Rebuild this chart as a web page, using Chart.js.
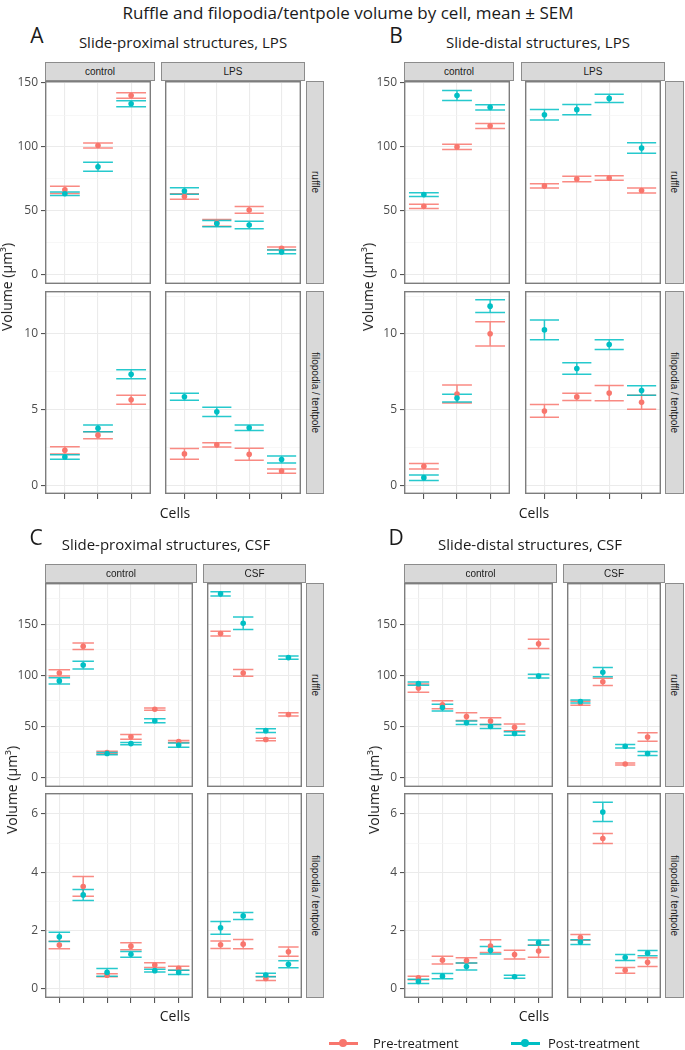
<!DOCTYPE html>
<html>
<head>
<meta charset="utf-8">
<script src="https://cdn.jsdelivr.net/npm/chart.js@4.4.1/dist/chart.umd.min.js"></script>
<style>
  html,body{margin:0;padding:0;background:#fff}
  #page{position:relative;width:685px;height:1050px;overflow:hidden;font-family:'Open Sans',sans-serif;color:#1a1a1a}
  .txt{position:absolute;white-space:nowrap;line-height:1;transform:translate(-50%,-50%)}
  .strip{position:absolute;box-sizing:border-box;background:#d9d9d9;border:1px solid #8c8c8c;font:10px 'Liberation Sans',Arial,sans-serif;color:#1a1a1a;display:flex;align-items:center;justify-content:center;overflow:hidden}
  .strip.side{writing-mode:vertical-rl}
  canvas{position:absolute}
</style>
</head>
<body>
<div id="page"></div>
<script>
const preColor = '#F8766D';
const postColor = '#00BFC4';

// A: slide-proximal structures, LPS (3 control cells, 4 LPS cells)
const A_groups = ['control', 'LPS'];
const A_cells = [3, 4];
const A_ruffle_pre      = [66.5, 101.2, 140.3, 61.3, 40.7, 50.8, 20.8];
const A_ruffle_pre_sem  = [2.9, 2.0, 2.2, 2.2, 2.6, 2.6, 1.1];
const A_ruffle_post     = [63.4, 84.6, 133.8, 65.6, 40.1, 39.0, 18.0];
const A_ruffle_post_sem = [1.4, 3.5, 2.3, 2.6, 2.5, 3.0, 1.4];
const A_filo_pre        = [2.31, 3.31, 5.65, 2.07, 2.67, 2.05, 0.94];
const A_filo_pre_sem    = [0.24, 0.23, 0.29, 0.35, 0.14, 0.40, 0.14];
const A_filo_post       = [1.87, 3.76, 7.34, 5.85, 4.85, 3.80, 1.70];
const A_filo_post_sem   = [0.15, 0.22, 0.30, 0.23, 0.30, 0.18, 0.23];

// B: slide-distal structures, LPS
const B_groups = ['control', 'LPS'];
const B_cells = [3, 4];
const B_ruffle_pre      = [53.6, 100.1, 116.4, 69.6, 75.0, 75.8, 66.0];
const B_ruffle_pre_sem  = [1.7, 2.1, 1.9, 1.7, 2.2, 1.7, 2.0];
const B_ruffle_post     = [62.8, 140.2, 131.0, 125.2, 129.2, 138.0, 99.2];
const B_ruffle_post_sem = [1.5, 3.9, 2.0, 4.1, 4.0, 3.3, 4.1];
const B_filo_pre        = [1.25, 6.03, 10.01, 4.91, 5.84, 6.09, 5.48];
const B_filo_pre_sem    = [0.18, 0.59, 0.80, 0.42, 0.24, 0.50, 0.46];
const B_filo_post       = [0.50, 5.76, 11.84, 10.27, 7.72, 9.30, 6.26];
const B_filo_post_sem   = [0.18, 0.26, 0.42, 0.66, 0.38, 0.32, 0.32];

// C: slide-proximal structures, CSF (6 control cells, 4 CSF cells)
const C_groups = ['control', 'CSF'];
const C_cells = [6, 4];
const C_ruffle_pre      = [102.3, 128.3, 24.5, 39.8, 66.8, 35.3, 140.8, 102.3, 37.2, 61.7];
const C_ruffle_pre_sem  = [3.0, 3.2, 1.3, 2.4, 1.1, 1.0, 2.3, 3.3, 1.3, 1.6];
const C_ruffle_post     = [94.5, 110.0, 23.5, 33.2, 55.5, 31.8, 179.6, 150.8, 45.9, 117.3];
const C_ruffle_post_sem = [3.0, 3.8, 1.1, 1.2, 2.0, 2.1, 2.1, 6.1, 1.8, 1.6];
const C_filo_pre        = [1.50, 3.51, 0.46, 1.46, 0.81, 0.70, 1.51, 1.53, 0.35, 1.27];
const C_filo_pre_sem    = [0.13, 0.34, 0.05, 0.12, 0.08, 0.07, 0.13, 0.16, 0.07, 0.16];
const C_filo_post       = [1.78, 3.22, 0.56, 1.18, 0.62, 0.56, 2.09, 2.50, 0.47, 0.84];
const C_filo_post_sem   = [0.16, 0.19, 0.13, 0.10, 0.05, 0.07, 0.22, 0.12, 0.06, 0.12];

// D: slide-distal structures, CSF
const D_groups = ['control', 'CSF'];
const D_cells = [6, 4];
const D_ruffle_pre      = [87.5, 71.2, 59.6, 55.2, 49.1, 130.7, 72.6, 93.6, 13.3, 39.7];
const D_ruffle_pre_sem  = [4.0, 3.9, 3.7, 3.2, 3.4, 4.6, 2.0, 3.5, 1.0, 4.1];
const D_ruffle_post     = [91.8, 68.4, 53.6, 50.0, 43.1, 99.2, 74.4, 103.0, 30.7, 23.5];
const D_ruffle_post_sem = [1.6, 3.2, 1.6, 2.0, 1.6, 1.8, 1.4, 4.5, 1.7, 2.0];
const D_filo_pre        = [0.37, 0.98, 0.97, 1.46, 1.17, 1.29, 1.76, 5.16, 0.63, 0.91];
const D_filo_pre_sem    = [0.06, 0.13, 0.09, 0.22, 0.15, 0.21, 0.10, 0.17, 0.10, 0.15];
const D_filo_post       = [0.25, 0.43, 0.76, 1.32, 0.41, 1.58, 1.60, 6.07, 1.07, 1.22];
const D_filo_post_sem   = [0.07, 0.09, 0.12, 0.13, 0.05, 0.09, 0.08, 0.33, 0.10, 0.09];

// y axis grid values (majors get labels)
const ruffleTicksAB = [0, 25, 50, 75, 100, 125, 150];
const ruffleTicksCD = [0, 25, 50, 75, 100, 125, 150, 175];
const ruffleMajor   = [0, 50, 100, 150];
const filoTicksAB   = [0, 2.5, 5, 7.5, 10, 12.5];
const filoMajorAB   = [0, 5, 10];
const filoTicksCD   = [0, 1, 2, 3, 4, 5, 6];
const filoMajorCD   = [0, 2, 4, 6];

const rowNames = ['ruffle', 'filopodia / tentpole'];

const panels = [
  { letter:'A', title:'Slide-proximal structures, LPS', groups:A_groups, cells:A_cells,
    series:[[A_ruffle_pre, A_ruffle_pre_sem, A_ruffle_post, A_ruffle_post_sem],
            [A_filo_pre, A_filo_pre_sem, A_filo_post, A_filo_post_sem]],
    y:[[-7.1, 151.6, ruffleTicksAB, ruffleMajor], [-0.58, 12.84, filoTicksAB, filoMajorAB]],
    cols:[[45,155],[161,305]], stripY:62, rows:[[81,284],[291,494]], side:[306,324],
    lx:37, ly:35, tx:183, ty:42, vx:7, vy:287, cx:175, cy:513 },
  { letter:'B', title:'Slide-distal structures, LPS', groups:B_groups, cells:B_cells,
    series:[[B_ruffle_pre, B_ruffle_pre_sem, B_ruffle_post, B_ruffle_post_sem],
            [B_filo_pre, B_filo_pre_sem, B_filo_post, B_filo_post_sem]],
    y:[[-7.1, 151.6, ruffleTicksAB, ruffleMajor], [-0.58, 12.84, filoTicksAB, filoMajorAB]],
    cols:[[404,514],[521,665]], stripY:62, rows:[[81,284],[291,494]], side:[665,684],
    lx:396, ly:35, tx:538, ty:42, vx:368, vy:287, cx:534, cy:513 },
  { letter:'C', title:'Slide-proximal structures, CSF', groups:C_groups, cells:C_cells,
    series:[[C_ruffle_pre, C_ruffle_pre_sem, C_ruffle_post, C_ruffle_post_sem],
            [C_filo_pre, C_filo_pre_sem, C_filo_post, C_filo_post_sem]],
    y:[[-9.2, 190.2, ruffleTicksCD, ruffleMajor], [-0.32, 6.72, filoTicksCD, filoMajorCD]],
    cols:[[45,197],[203,306]], stripY:564, rows:[[583,787],[793,998]], side:[306,324],
    lx:36, ly:537, tx:166, ty:544, vx:12, vy:790, cx:175, cy:1016 },
  { letter:'D', title:'Slide-distal structures, CSF', groups:D_groups, cells:D_cells,
    series:[[D_ruffle_pre, D_ruffle_pre_sem, D_ruffle_post, D_ruffle_post_sem],
            [D_filo_pre, D_filo_pre_sem, D_filo_post, D_filo_post_sem]],
    y:[[-9.2, 190.2, ruffleTicksCD, ruffleMajor], [-0.32, 6.72, filoTicksCD, filoMajorCD]],
    cols:[[404,557],[563,665]], stripY:564, rows:[[583,787],[793,998]], side:[665,684],
    lx:396, ly:537, tx:530, ty:544, vx:374, vy:790, cx:534, cy:1016 }
];

const page = document.getElementById('page');

function addText(str, x, y, css) {
  const d = document.createElement('div');
  d.className = 'txt';
  d.textContent = str;
  d.style.left = x + 'px'; d.style.top = y + 'px';
  Object.assign(d.style, css || {});
  page.appendChild(d);
  return d;
}

function addStrip(str, l, t, w, h, side) {
  const d = document.createElement('div');
  d.className = 'strip' + (side ? ' side' : '');
  d.textContent = str;
  Object.assign(d.style, { left:l+'px', top:t+'px', width:w+'px', height:h+'px' });
  page.appendChild(d);
}

// mean +/- SEM whiskers, drawn through the chart's own scales
const errorBars = {
  id: 'errorBars',
  beforeDatasetsDraw(chart) {
    const { ctx, chartArea: a, scales: { x, y } } = chart;
    ctx.save();
    ctx.beginPath(); ctx.rect(a.left, a.top, a.right - a.left, a.bottom - a.top); ctx.clip();
    for (let d = chart.data.datasets.length - 1; d >= 0; d--) {
      const ds = chart.data.datasets[d];
      ctx.strokeStyle = ds.barColor; ctx.lineWidth = 1.5;
      ds.data.forEach(pt => {
        const cx = x.getPixelForValue(pt.x);
        const hw = x.getPixelForValue(pt.x + 0.45) - cx;
        const top = y.getPixelForValue(pt.y + pt.sem), bot = y.getPixelForValue(pt.y - pt.sem);
        ctx.beginPath();
        ctx.moveTo(cx - hw, top); ctx.lineTo(cx + hw, top);
        ctx.moveTo(cx, top); ctx.lineTo(cx, bot);
        ctx.moveTo(cx - hw, bot); ctx.lineTo(cx + hw, bot);
        ctx.stroke();
      });
    }
    ctx.restore();
  }
};

const frame = {
  id: 'frame',
  afterDraw(chart) {
    const { ctx, chartArea: a } = chart;
    ctx.save();
    ctx.strokeStyle = '#7d7d7d'; ctx.lineWidth = 1.4;
    ctx.strokeRect(a.left + 0.7, a.top + 0.7, a.right - a.left - 1.4, a.bottom - a.top - 1.4);
    ctx.restore();
  }
};

function facet(p, ci, ri) {
  const [x0, x1] = p.cols[ci];
  const [y0, y1] = p.rows[ri];
  const first = ci === 0, bottom = ri === 1;
  const padL = first ? 45 : 0;
  const padB = bottom ? 6 : 0;
  const padV = 9;
  const cv = document.createElement('canvas');
  cv.width = x1 - x0 + padL;
  cv.height = y1 - y0 + padB + 2 * padV;
  cv.style.left = (x0 - padL) + 'px';
  cv.style.top = (y0 - padV) + 'px';
  page.appendChild(cv);

  const off = p.cells.slice(0, ci).reduce((s, v) => s + v, 0);
  const n = p.cells[ci];
  const [pre, preSem, post, postSem] = p.series[ri].map(arr => arr.slice(off, off + n));
  const pts = (m, s) => m.map((v, i) => ({ x: i + 1, y: v, sem: s[i] }));
  const [yMin, yMax, yTicks, yMajor] = p.y[ri];
  const isMajor = c => c.tick && yMajor.includes(c.tick.value);

  new Chart(cv, {
    type: 'scatter',
    data: { datasets: [
      { label:'Post-treatment', data: pts(post, postSem), backgroundColor: postColor,
        barColor:'rgba(0,191,196,0.85)', pointRadius:2.8, pointBorderWidth:0 },
      { label:'Pre-treatment', data: pts(pre, preSem), backgroundColor: preColor,
        barColor:'rgba(248,118,109,0.85)', pointRadius:2.8, pointBorderWidth:0 }
    ]},
    options: {
      responsive:false, animation:false, events:[], devicePixelRatio:1,
      layout:{ padding:{ top:padV, bottom:padV, left:0, right:0 } },
      plugins:{ legend:{ display:false }, tooltip:{ enabled:false } },
      scales: {
        x: { type:'linear', min:0.4, max:n + 0.6,
             afterBuildTicks: s => { s.ticks = pre.map((v, i) => ({ value: i + 1 })); },
             ticks:{ display:false },
             grid:{ color:'#ebebeb', lineWidth:1.1, drawTicks:bottom, tickLength:5, tickColor:'#555' },
             border:{ display:false },
             afterFit: s => { s.height = padB; s.paddingLeft = 0; s.paddingRight = 0; } },
        y: { type:'linear', min:yMin, max:yMax,
             afterBuildTicks: s => { s.ticks = yTicks.map(v => ({ value: v })); },
             ticks:{ display:first, autoSkip:false, padding:3, color:'#4d4d4d',
                     font:{ family:'Open Sans', size:12 },
                     callback: v => yMajor.includes(v) ? String(v) : '' },
             grid:{ color: c => isMajor(c) ? '#ebebeb' : '#f4f4f4',
                    lineWidth: c => isMajor(c) ? 1.1 : 0.7,
                    drawTicks:first, tickLength:4,
                    tickColor: c => isMajor(c) ? '#555' : 'rgba(0,0,0,0)' },
             border:{ display:false },
             afterFit: s => { s.width = padL; s.paddingTop = 0; s.paddingBottom = 0; } }
      }
    },
    plugins:[errorBars, frame]
  });
}

addText('Ruffle and filopodia/tentpole volume by cell, mean \u00b1 SEM', 348, 12, { fontSize:'17px' });

panels.forEach(p => {
  addText(p.letter, p.lx, p.ly, { fontSize:'21px' });
  addText(p.title, p.tx, p.ty, { fontSize:'15px' });
  p.cols.forEach(([a, b], ci) => addStrip(p.groups[ci], a, p.stripY, b - a, p.rows[0][0] - p.stripY));
  p.rows.forEach(([a, b], ri) => addStrip(rowNames[ri], p.side[0], a, p.side[1] - p.side[0], b - a, true));
  for (let ri = 0; ri < 2; ri++) for (let ci = 0; ci < 2; ci++) facet(p, ci, ri);
  addText('Volume (\u00b5m\u00b3)', p.vx, p.vy, { fontSize:'14px', transform:'translate(-50%,-50%) rotate(-90deg)' });
  addText('Cells', p.cx, p.cy, { fontSize:'14px' });
});

// legend
[['Pre-treatment', preColor, 343, 373], ['Post-treatment', postColor, 525, 548]].forEach(([lab, col, mx, tx]) => {
  const line = document.createElement('div');
  Object.assign(line.style, { position:'absolute', left:(mx - 14) + 'px', top:'1042px', width:'29px', height:'2.5px', background:col });
  const dot = document.createElement('div');
  Object.assign(dot.style, { position:'absolute', left:(mx - 4) + 'px', top:'1039px', width:'8px', height:'8px', borderRadius:'50%', background:col });
  page.appendChild(line); page.appendChild(dot);
  addText(lab, tx, 1043, { fontSize:'13px', transform:'translate(0,-50%)' });
});
</script>
</body>
</html>
